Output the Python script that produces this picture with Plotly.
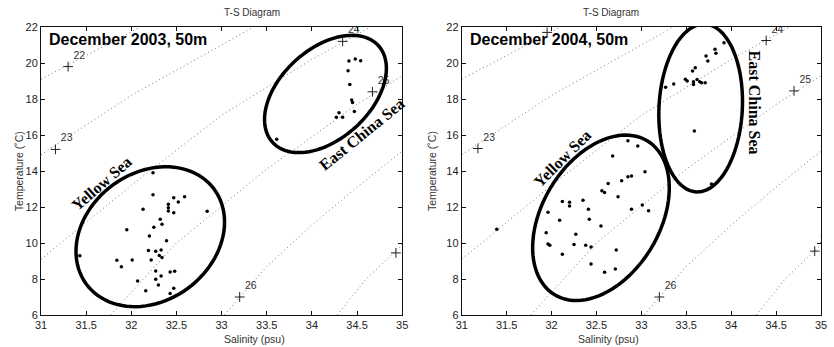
import numpy as np
import plotly.graph_objects as go

# ---------------- data ----------------
# December 2003, 50 m
S03_ys = [32.24, 32.24, 32.47, 32.59, 32.52, 32.41, 32.41, 32.41, 32.13, 32.47, 32.84, 32.32, 32.34,
          32.25, 31.95, 32.20, 32.39, 32.19, 32.27, 32.33, 32.31, 32.34, 32.22, 32.01, 31.84, 31.89,
          31.43, 32.27, 32.43, 32.48, 32.33, 32.27, 32.07, 32.30, 32.16, 32.47, 32.43]
T03_ys = [13.90, 12.68, 12.52, 12.57, 12.28, 12.15, 11.96, 11.78, 11.87, 11.68, 11.76, 11.32, 11.04,
          10.87, 10.74, 10.39, 10.13, 9.59, 9.54, 9.61, 9.31, 9.20, 9.06, 9.06, 9.04, 8.68,
          9.29, 8.44, 8.39, 8.43, 8.17, 7.98, 7.89, 7.67, 7.35, 7.48, 7.20]
S03_ecs = [34.41, 34.48, 34.54, 34.40, 34.42, 34.44, 34.45, 34.30, 34.27, 34.34, 34.47, 33.61]
T03_ecs = [20.11, 20.22, 20.13, 19.57, 18.81, 17.94, 17.80, 17.24, 16.98, 16.98, 17.30, 15.76]

# December 2004, 50 m
S04_ys = [31.39, 31.96, 32.12, 32.20, 32.20, 32.35, 32.41, 32.42, 32.09, 32.55, 31.94, 31.96, 31.98,
          32.27, 32.25, 32.38, 32.44, 32.12, 32.44, 32.59, 32.71, 32.72, 32.56, 32.59, 32.63, 32.74,
          32.78, 32.85, 32.89, 32.89, 33.04, 33.01, 33.08, 32.68, 32.85, 32.96]
T04_ys = [10.76, 11.71, 12.30, 12.26, 12.06, 12.37, 11.87, 11.32, 11.26, 10.94, 10.57, 9.94, 9.87,
          10.48, 9.91, 9.87, 9.78, 9.37, 8.83, 8.37, 8.56, 9.61, 12.90, 12.80, 13.30, 12.57,
          13.46, 13.68, 13.72, 11.87, 13.96, 12.11, 11.79, 14.83, 15.68, 15.39]
S04_ecs = [33.27, 33.36, 33.49, 33.51, 33.57, 33.60, 33.58, 33.62, 33.65, 33.67, 33.71, 33.58,
           33.72, 33.74, 33.82, 33.83, 33.92, 33.59, 33.78]
T04_ecs = [18.65, 18.83, 19.10, 19.00, 19.56, 19.74, 18.96, 19.09, 18.96, 18.90, 18.90, 18.80,
           20.39, 20.11, 20.76, 20.54, 21.13, 16.22, 13.28]

# isopycnals (sigma-t)
sig_levels = ["22", "23", "24", "25", "26", "27"]
sig_S = [[31.0, 31.5, 32.1],
         [31.0, 32.0, 33.0, 33.35],
         [31.0, 32.0, 33.0, 34.0, 34.65],
         [31.77, 32.5, 33.5, 34.5, 35.0],
         [33.03, 33.5, 34.0, 34.5, 35.0],
         [34.28, 34.6, 35.0]]
sig_T = [[19.1, 20.4, 22.0],
         [14.9, 18.2, 21.0, 22.0],
         [9.1, 13.2, 17.1, 20.2, 22.0],
         [6.0, 10.0, 14.1, 17.7, 19.3],
         [6.0, 8.7, 11.0, 13.1, 15.1],
         [6.0, 8.0, 9.9]]
# contour label positions
lab03_S = [31.30, 31.16, 34.34, 34.67, 33.20, 34.93]
lab03_T = [19.80, 15.20, 21.20, 18.40, 7.00, 9.45]
lab04_S = [31.95, 31.18, 34.39, 34.70, 33.20, 34.93]
lab04_T = [21.70, 15.25, 21.25, 18.45, 7.00, 9.55]

x_ticks = [31, 31.5, 32, 32.5, 33, 33.5, 34, 34.5, 35]
x_ticktext = ["31", "31.5", "32", "32.5", "33", "33.5", "34", "34.5", "35"]
y_ticks = [6, 8, 10, 12, 14, 16, 18, 20, 22]

panel_titles = ["December 2003, 50m", "December 2004, 50m"]

# ---------------- layout geometry ----------------
W, H = 834, 347
ML, MR, MT, MB = 41, 7, 27, 32
PW = W - ML - MR
PH = H - MT - MB
dom1 = [0.0, 364 / PW]
dom2 = [(465 - 41) / PW, 1.0]
pxS = [364 / 4.0, (PW - 424) / 4.0]
pxT = PH / 16.0

# ellipse annotations: center S, center T, semi-major px, semi-minor px, angle (deg)
ell_panel = [1, 1, 2, 2]
ell_cS = [32.21, 34.15, 32.55, 33.66]
ell_cT = [10.35, 18.28, 11.40, 17.50]
ell_a = [80, 72, 90, 84]
ell_b = [64, 45, 59, 42]
ell_ang = [36, 42, 58.5, 87]

fig = go.Figure()

dot_line = dict(color="#777777", width=1, dash="1px,3px")

def add_panel(p, Sys, Tys, Secs, Tecs, labS, labT):
    xa = "x" if p == 1 else "x2"
    ya = "y" if p == 1 else "y2"
    for k in range(len(sig_levels)):
        fig.add_trace(go.Scatter(x=sig_S[k], y=sig_T[k], mode="lines", line=dot_line,
                                 xaxis=xa, yaxis=ya, showlegend=False, hoverinfo="skip"))
    fig.add_trace(go.Scatter(x=labS, y=labT, mode="markers+text", text=sig_levels,
                             textposition="top right",
                             textfont=dict(family="Liberation Sans, Arial", size=10.5, color="#333333"),
                             marker=dict(symbol="cross-thin", size=7,
                                         line=dict(width=1, color="#222222")),
                             xaxis=xa, yaxis=ya, showlegend=False, cliponaxis=True))
    fig.add_trace(go.Scatter(x=Sys + Secs, y=Tys + Tecs, mode="markers",
                             marker=dict(symbol="circle", size=3.5, color="black"),
                             xaxis=xa, yaxis=ya, showlegend=False))

add_panel(1, S03_ys, T03_ys, S03_ecs, T03_ecs, lab03_S, lab03_T)
add_panel(2, S04_ys, T04_ys, S04_ecs, T04_ecs, lab04_S, lab04_T)

shapes = []
t = np.linspace(0, 2 * np.pi, 97)
for i in range(len(ell_cS)):
    p = ell_panel[i]
    th = np.radians(ell_ang[i])
    dx = ell_a[i] * np.cos(t) * np.cos(th) - ell_b[i] * np.sin(t) * np.sin(th)
    dy = ell_a[i] * np.cos(t) * np.sin(th) + ell_b[i] * np.sin(t) * np.cos(th)
    Sx = ell_cS[i] + dx / pxS[p - 1]
    Ty = ell_cT[i] + dy / pxT
    path = "M " + " L ".join(f"{a:.4f},{b:.4f}" for a, b in zip(Sx, Ty)) + " Z"
    shapes.append(dict(type="path", path=path, xref="x" if p == 1 else "x2",
                       yref="y" if p == 1 else "y2",
                       line=dict(color="black", width=3.5), layer="above"))

tickfont = dict(family="Liberation Sans, Arial", size=11, color="#222222")
axis_common = dict(showgrid=False, zeroline=False, showline=True, mirror="ticks",
                   linecolor="#111111", linewidth=1, ticks="inside", ticklen=4,
                   tickcolor="#111111", tickfont=tickfont)

annotations = []
serif = "Liberation Serif, Times New Roman, serif"
region_labels = [
    (1, "Yellow Sea", 31.67, 13.3, -41),
    (1, "East China Sea", 34.55, 16.02, -39),
    (2, "Yellow Sea", 32.12, 14.67, -45),
    (2, "East China Sea", 34.26, 17.83, 90),
]
for p, txt, sx, ty, ang in region_labels:
    annotations.append(dict(x=sx, y=ty, xref="x" if p == 1 else "x2", yref="y" if p == 1 else "y2",
                            text="<b>" + txt + "</b>", showarrow=False, textangle=ang,
                            font=dict(family=serif, size=16, color="black")))
for p in (1, 2):
    annotations.append(dict(x=31.07, y=21.28, xref="x" if p == 1 else "x2", yref="y" if p == 1 else "y2",
                            text="<b>" + panel_titles[p - 1] + "</b>", showarrow=False,
                            xanchor="left", yanchor="middle",
                            font=dict(family="Liberation Sans, Arial", size=16, color="black")))
    dom = dom1 if p == 1 else dom2
    cx = (dom[0] + dom[1]) / 2
    annotations.append(dict(x=cx, y=1 + 15 / PH, xref="paper", yref="paper", text="T-S Diagram",
                            showarrow=False, yanchor="middle",
                            font=dict(family="Liberation Sans, Arial", size=10, color="#333333")))
    annotations.append(dict(x=cx, y=-24 / PH, xref="paper", yref="paper", text="Salinity (psu)",
                            showarrow=False, yanchor="middle",
                            font=dict(family="Liberation Sans, Arial", size=10.5, color="#333333")))
    ytx = (19 - 41) / PW if p == 1 else (435 - 41) / PW
    annotations.append(dict(x=ytx, y=0.5, xref="paper", yref="paper", text="Temperature (˚C)",
                            showarrow=False, textangle=-90, xanchor="center",
                            font=dict(family="Liberation Sans, Arial", size=10.5, color="#333333")))

fig.update_layout(
    width=W, height=H, margin=dict(l=ML, r=MR, t=MT, b=MB),
    paper_bgcolor="white", plot_bgcolor="white",
    xaxis=dict(domain=dom1, range=[31, 35], tickvals=x_ticks, ticktext=x_ticktext,
               anchor="y", **axis_common),
    yaxis=dict(domain=[0, 1], range=[6, 22], tickvals=y_ticks, anchor="x", **axis_common),
    xaxis2=dict(domain=dom2, range=[31, 35], tickvals=x_ticks, ticktext=x_ticktext,
                anchor="y2", **axis_common),
    yaxis2=dict(domain=[0, 1], range=[6, 22], tickvals=y_ticks, anchor="x2", **axis_common),
    shapes=shapes, annotations=annotations, showlegend=False,
)

fig.write_html("out.html", config={"displayModeBar": False},
               post_script="document.body.style.margin='0';document.body.style.overflow='hidden';")
